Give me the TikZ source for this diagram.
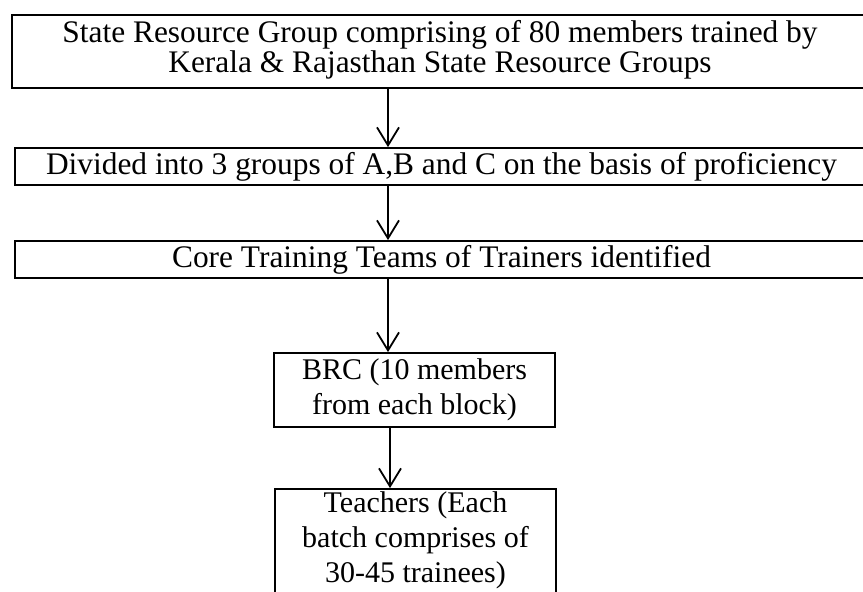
\documentclass[tikz,border=0pt]{standalone}
\usepackage{fontspec}
\setmainfont{Liberation Serif}
\usetikzlibrary{arrows.meta}
\tikzset{>={Straight Barb[length=9pt,width=11pt]},
  stepbox/.style={draw,line width=0.9pt,align=center,inner sep=0pt,
    font=\fontsize{15}{17.5}\selectfont},
  widebox/.style={stepbox,font=\fontsize{15.7}{14.2}\selectfont},
  flow/.style={->,line width=0.9pt}}

\begin{document}
\begin{tikzpicture}[x=0.5pt,y=-0.5pt]
  \useasboundingbox (0,0) rectangle (863,592);
  \clip (0,0) rectangle (863,592);
  % wide boxes run off the right edge
  \node[widebox,minimum width=428pt,minimum height=36.5pt] (src) at (440,51.5)
    {State Resource Group comprising of 80 members trained by\\Kerala \& Rajasthan State Resource Groups\rule[-5pt]{0pt}{0pt}};
  \node[widebox,minimum width=426.5pt,minimum height=18.5pt] (grp) at (441.5,166.5)
    {Divided into 3 groups of A,B and C on the basis of proficiency};
  \node[widebox,minimum width=426.5pt,minimum height=18.5pt] (core) at (441.5,259.5)
    {Core Training Teams of Trainers identified};
  \node[stepbox,minimum width=140.5pt,minimum height=37pt] (brc) at (414.5,390)
    {BRC (10 members\\from each block)};
  \node[stepbox,minimum width=140.5pt,minimum height=56pt] (tch) at (415.5,545)
    {Teachers (Each\\batch comprises of\\30-45 trainees)\rule[-8pt]{0pt}{0pt}};
  \coordinate (ax) at (388,0);
  \coordinate (bx) at (390,0);
  \draw[flow] (src.south -| ax) -- (grp.north -| ax);
  \draw[flow] (grp.south -| ax) -- (core.north -| ax);
  \draw[flow] (core.south -| ax) -- (brc.north -| ax);
  \draw[flow] (brc.south -| bx) -- (tch.north -| bx);
\end{tikzpicture}
\end{document}
